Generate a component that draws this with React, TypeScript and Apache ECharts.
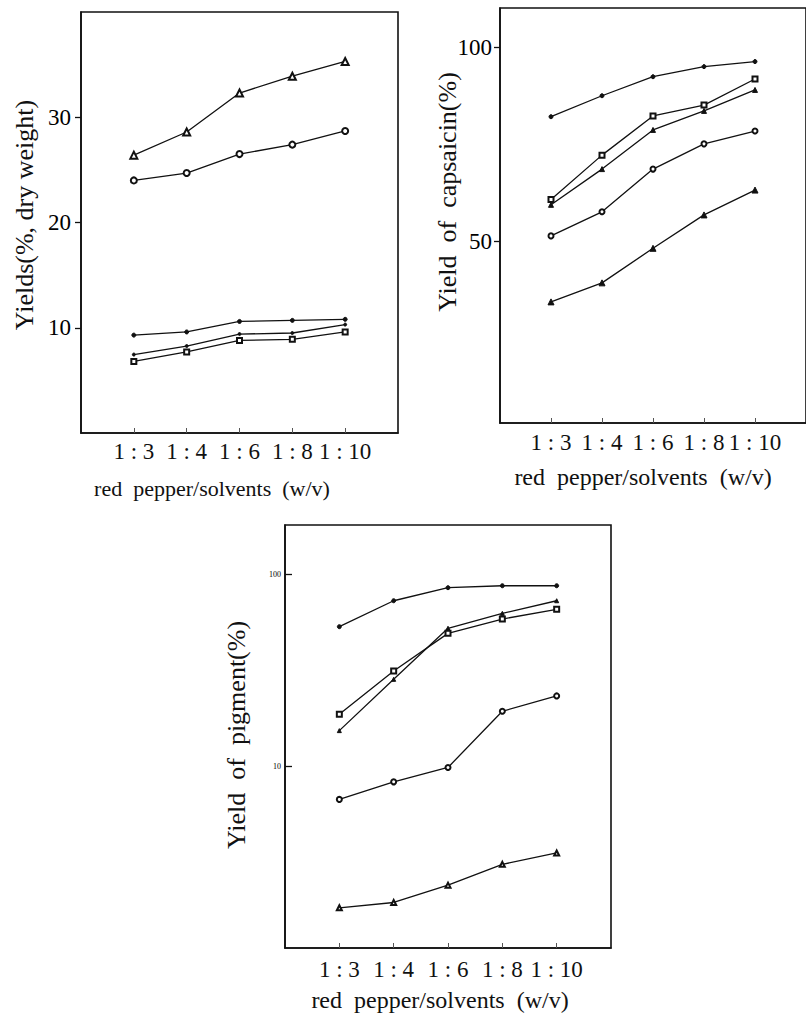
import React, { useEffect, useRef } from "react";
import * as echarts from "echarts";

// Shared category labels (solid : solvent ratio)
const categories = ["1\u00a0:\u00a03", "1\u00a0:\u00a04", "1\u00a0:\u00a06", "1\u00a0:\u00a08", "1\u00a0:\u00a010"];

// Panel 1 – Yields (%, dry weight)
const yieldTriangle = [26.4, 28.6, 32.3, 33.9, 35.3];
const yieldCircle = [24.0, 24.7, 26.5, 27.4, 28.7];
const yieldDot = [9.3, 9.6, 10.6, 10.7, 10.8];
const yieldSmall = [7.45, 8.26, 9.4, 9.5, 10.3];
const yieldSquare = [6.8, 7.7, 8.8, 8.9, 9.6];
const yieldTicks = [10, 20, 30];

// Panel 2 – Yield of capsaicin (%)
const capDot = [82.2, 87.6, 92.5, 95.1, 96.4];
const capSquare = [60.9, 72.3, 82.4, 85.2, 91.9];
const capSmall = [59.5, 68.7, 78.8, 83.7, 89.1];
const capCircle = [51.5, 57.7, 68.7, 75.2, 78.5];
const capTriangle = [34.5, 39.4, 48.3, 56.9, 63.3];
const capTicks = [50, 100];

// Panel 3 – Yield of pigment (%), log scale
const pigDot = [53.2, 72.6, 84.9, 86.9, 86.9];
const pigSmall = [15.3, 28.3, 52.2, 62.4, 72.6];
const pigSquare = [18.6, 31.3, 49.1, 58.3, 65.5];
const pigCircle = [6.71, 8.28, 9.84, 19.3, 23.2];
const pigTriangle = [1.83, 1.95, 2.4, 3.08, 3.53];
const pigTicks = [10, 100];

const xTitle = "red\u00a0\u00a0pepper/solvents\u00a0\u00a0(w/v)";
const FAMILY = "Liberation Serif";
const INK = "#111";
const catIdx = [0, 1, 2, 3, 4];

function xAxisFor(gridIndex: number, margin: number) {
  return {
    gridIndex,
    type: "value",
    min: -1,
    max: 5,
    axisLine: { show: true, onZero: false, lineStyle: { color: INK, width: 1.6 } },
    axisTick: { show: true, inside: true, length: 5, customValues: catIdx, lineStyle: { color: "#555", width: 1 } },
    axisLabel: {
      customValues: catIdx,
      formatter: (v: number) => categories[Math.round(v)] ?? "",
      margin,
      fontFamily: FAMILY,
      fontSize: 23,
      color: INK,
    },
    splitLine: { show: false },
  };
}

function yAxisFor(
  gridIndex: number,
  type: string,
  min: number,
  max: number,
  ticks: number[],
  inside: boolean,
  fontSize: number,
  margin: number
) {
  return {
    gridIndex,
    type,
    min,
    max,
    axisLine: { show: true, onZero: false, lineStyle: { color: INK, width: 1.6 } },
    axisTick: { show: true, inside, length: inside ? 7 : 6, customValues: ticks, lineStyle: { color: INK, width: 1.3 } },
    axisLabel: { customValues: ticks, margin, fontFamily: FAMILY, fontSize, color: "#000" },
    splitLine: { show: false },
    minorTick: { show: false },
  };
}

function line(idx: number, data: number[], symbol: string, size: number) {
  return {
    type: "line",
    xAxisIndex: idx,
    yAxisIndex: idx,
    data: data.map((v, i) => [i, v]),
    symbol,
    symbolSize: size,
    showAllSymbol: true,
    lineStyle: { color: INK, width: 1.3 },
    itemStyle: { color: INK, borderColor: INK, borderWidth: 1 },
    silent: true,
  };
}

function text(x: number, y: number, str: string, size: number, rotate = false) {
  return {
    type: "text",
    x,
    y,
    rotation: rotate ? Math.PI / 2 : 0,
    style: {
      text: str,
      font: `${size}px "${FAMILY}"`,
      fill: INK,
      align: "center",
      verticalAlign: "middle",
    },
    silent: true,
  };
}

export default function App() {
  const ref = useRef<HTMLDivElement>(null);

  useEffect(() => {
    if (!ref.current) return;
    const chart = echarts.init(ref.current, null, { renderer: "svg" });
    const gridStyle = { show: true, borderColor: INK, borderWidth: 1.6, backgroundColor: "transparent" };
    chart.setOption({
      animation: false,
      backgroundColor: "#fff",
      textStyle: { fontFamily: FAMILY },
      grid: [
        { left: 81, top: 12, width: 317, height: 421, ...gridStyle },
        { left: 500, top: 8, width: 320, height: 415, ...gridStyle },
        { left: 285, top: 525, width: 326, height: 423, ...gridStyle },
      ],
      xAxis: [xAxisFor(0, 7), xAxisFor(1, 8), xAxisFor(2, 10)],
      yAxis: [
        yAxisFor(0, "value", 0, 40, yieldTicks, false, 23, 10),
        yAxisFor(1, "value", 3.3, 110.2, capTicks, false, 23, 8),
        yAxisFor(2, "log", 1.13, 180, pigTicks, true, 8, 4),
      ],
      series: [
        line(0, yieldTriangle, "emptyTriangle", 7),
        line(0, yieldCircle, "emptyCircle", 6),
        line(0, yieldDot, "circle", 4),
        line(0, yieldSmall, "circle", 3),
        line(0, yieldSquare, "emptyRect", 5),
        line(1, capDot, "circle", 4),
        line(1, capSquare, "emptyRect", 5),
        line(1, capSmall, "triangle", 5),
        line(1, capCircle, "emptyCircle", 5),
        line(1, capTriangle, "triangle", 6),
        line(2, pigDot, "circle", 4),
        line(2, pigSmall, "triangle", 4),
        line(2, pigSquare, "emptyRect", 5),
        line(2, pigCircle, "emptyCircle", 5),
        line(2, pigTriangle, "emptyTriangle", 5),
      ],
      graphic: [
        text(24, 215, "Yields(%,\u00a0dry\u00a0weight)", 26, true),
        text(212, 488, xTitle, 22),
        text(447, 192, "Yield\u00a0\u00a0of\u00a0\u00a0capsaicin(%)", 26, true),
        text(643, 477, xTitle, 24),
        text(236, 735, "Yield\u00a0\u00a0of\u00a0\u00a0pigment(%)", 26, true),
        text(440, 1000, xTitle, 24),
      ],
    });
    return () => chart.dispose();
  }, []);

  return (
    <div
      ref={ref}
      style={{ position: "absolute", left: 0, top: 0, width: 806, height: 1017, background: "#fff" }}
    />
  );
}
